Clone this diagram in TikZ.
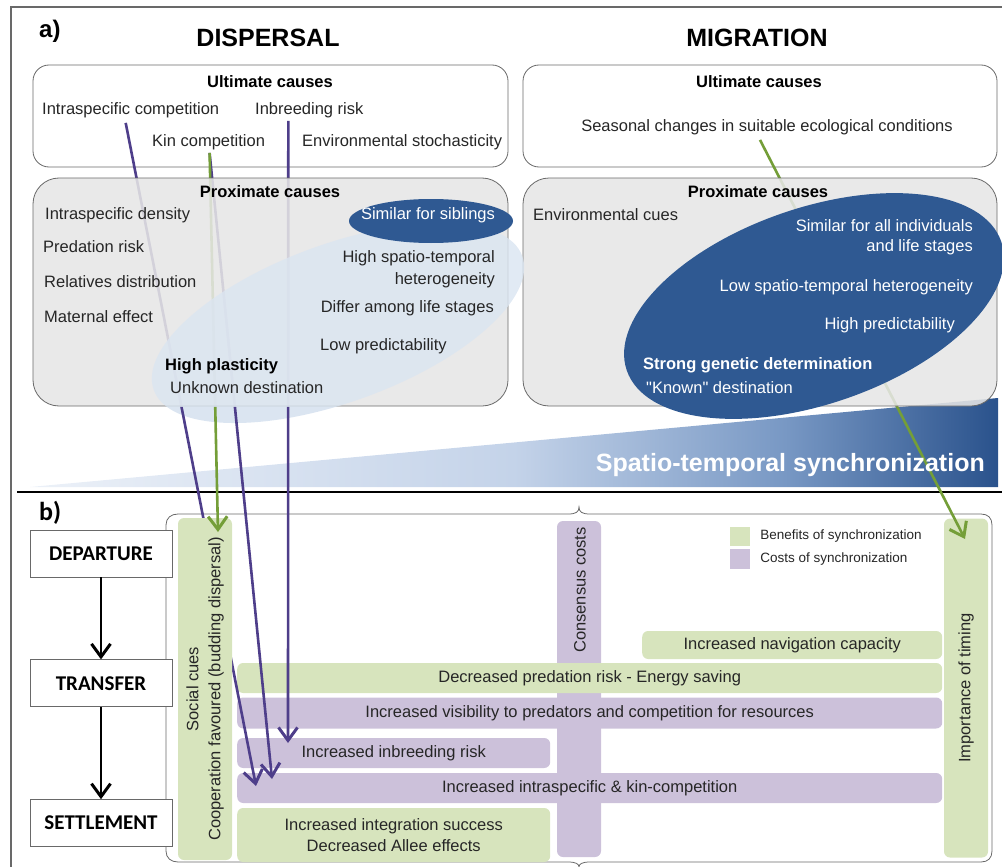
\documentclass[tikz,border=0pt]{standalone}
\usepackage{fontspec}
\setmainfont{Liberation Sans}[Ligatures=TeXOff]
\newfontfamily\stagefont{Carlito}
\usetikzlibrary{arrows.meta,positioning}

\definecolor{proxgray}{RGB}{230,230,230}
\definecolor{framegray}{RGB}{105,105,105}
\definecolor{lightell}{RGB}{219,229,241}
\definecolor{darkell}{RGB}{47,89,146}
\definecolor{bengreen}{RGB}{215,228,189}
\definecolor{costpurple}{RGB}{204,193,218}
\definecolor{purpleline}{RGB}{78,62,138}
\definecolor{greenline}{RGB}{116,158,56}
\definecolor{txtgray}{RGB}{38,38,38}
\definecolor{syncA}{RGB}{236,241,248}
\definecolor{syncB}{RGB}{196,211,233}
\definecolor{syncC}{RGB}{120,152,196}
\definecolor{syncD}{RGB}{42,82,140}

% tikz maps the path box onto 25bp..75bp
\pgfdeclarehorizontalshading{syncshade}{100bp}{color(0bp)=(syncA); color(25bp)=(syncA); color(50bp)=(syncB); color(64bp)=(syncC); color(75bp)=(syncD); color(100bp)=(syncD)}

\newcommand{\causefont}{\fontsize{16.5}{21}\selectfont}
\newcommand{\legendfont}{\fontsize{13.5}{16}\selectfont}
\newcommand{\bigfont}{\fontsize{25}{30}\selectfont\bfseries}
\newcommand{\stagelabelfont}{\stagefont\fontsize{21}{25}\selectfont\bfseries}

\tikzset{
  cause/.style={font=\causefont, text=txtgray},
  causehead/.style={font=\causefont\bfseries, text=black},
  wcause/.style={font=\causefont, text=white},
  ultibox/.style={draw=framegray, line width=0.8pt, fill=white, rounded corners=16pt},
  proxbox/.style={draw=framegray, line width=0.8pt, fill=proxgray, fill opacity=0.88, rounded corners=26pt},
  benbar/.style={fill=bengreen, rounded corners=6pt, font=\causefont, text=txtgray},
  costbar/.style={fill=costpurple, rounded corners=6pt, font=\causefont, text=txtgray},
  stagebox/.style={draw=framegray, fill=white, line width=0.8pt, minimum width=142pt, minimum height=47pt, font=\stagelabelfont, text=black},
  costline/.style={draw=purpleline, line width=2.6pt, arrows={-Straight Barb[length=13pt,width=19pt,line width=3pt]}},
  benline/.style={draw=greenline, line width=2.6pt, arrows={-Straight Barb[length=13pt,width=19pt,line width=3pt]}},
  stagearrow/.style={draw=black, line width=2.4pt, arrows={-Straight Barb[length=13pt,width=19pt,line width=3pt]}},
  bighead/.style={font=\bigfont, text=black}
}

\begin{document}
\begin{tikzpicture}[x=1pt, y=-1pt, every node/.style={inner sep=0pt, font=\causefont, text=txtgray}]
\useasboundingbox (0,0) rectangle (1002,867);
\draw[framegray, line width=1.2pt] (1002,7) -- (11,7) -- (11,867);

% wedge and separator
\shade[shading=syncshade] (30,487) -- (998,398) -- (998,487) -- cycle;
\draw[line width=2.6pt] (17,492) -- (1002,492);

% b) frame with braces
\draw[framegray, line width=0.8pt]
  (178,514) -- (568,514) .. controls (576,514) and (579,512) .. (579,507)
  .. controls (579,512) and (582,514) .. (590,514) -- (981,514)
  .. controls (988,514) and (992,518) .. (992,525) -- (992,851)
  .. controls (992,858) and (988,862) .. (981,862) -- (590,862)
  .. controls (582,862) and (579,864) .. (579,867)
  .. controls (579,864) and (576,862) .. (568,862) -- (178,862)
  .. controls (171,862) and (166,858) .. (166,851) -- (166,525)
  .. controls (166,518) and (171,514) .. (178,514) -- cycle;

% vertical bars
\node[costbar, minimum width=44pt, minimum height=336pt] (cons) at (579,689) {};
\node[cause, rotate=90] (conslabel) at (580,590) {Consensus costs};
\node[benbar, rotate=90, minimum width=339pt, minimum height=44pt] (timing) at (966,688) {Importance of timing};

% horizontal bars
\node[benbar, anchor=west, minimum width=300pt, minimum height=28pt] (bnav) at (642,645) {Increased navigation capacity};
\node[benbar, anchor=west, minimum width=705pt, minimum height=30pt] (bpred) at (237,678) {Decreased predation risk - Energy saving};
\node[costbar, anchor=west, minimum width=705pt, minimum height=31pt] (bvis) at (237,713) {Increased visibility to predators and competition for resources};
\node[costbar, anchor=west, minimum width=313pt, minimum height=30pt] (binbr) at (237,753) {Increased inbreeding risk};
\node[costbar, anchor=west, minimum width=705pt, minimum height=30pt] (bkin) at (237,788) {Increased intraspecific \& kin-competition};
\node[benbar, anchor=west, minimum width=313pt, minimum height=54pt, align=center] (binteg) at (237,835) {Increased integration success\\Decreased Allee effects};

% legend
\node[fill=bengreen, minimum width=20pt, minimum height=19pt] (legben) at (740,536) {};
\node[font=\legendfont, right=10pt of legben] (legbentxt) {Benefits of synchronization};
\node[fill=costpurple, minimum width=20pt, minimum height=20pt] (legcost) at (740,559) {};
\node[font=\legendfont, right=10pt of legcost] (legcosttxt) {Costs of synchronization};

% ultimate causes
\draw[ultibox] (33,65) rectangle (508,167);
\draw[ultibox] (523,65) rectangle (997,167);
\node[causehead] (dult) at (270,82) {Ultimate causes};
\node[cause, anchor=west] (dintra) at (42,110) {Intraspecific competition};
\node[cause, anchor=west] (dinbr) at (255,110) {Inbreeding risk};
\node[cause, anchor=west] (dkin) at (152,142) {Kin competition};
\node[cause, anchor=west] (denv) at (302,142) {Environmental stochasticity};
\node[causehead] (mult) at (759,82) {Ultimate causes};
\node[cause] (mseason) at (767,127) {Seasonal changes in suitable ecological conditions};

% light ellipse below the box
\begin{scope}
  \clip (0,406) rectangle (1002,490);
  \fill[lightell, rotate around={20:(338,323)}] (338,323) ellipse [x radius=196, y radius=79];
\end{scope}

% links to part b
\coordinate (intraend) at (256,786);
\coordinate (kinend) at (272,779);
\coordinate (inbrend) at (288,743);
\coordinate (socialend) at (218,532);
\coordinate (timingend) at (965,539);
\draw[costline] ([shift={(-5,5)}]dintra.south) -- (intraend);
\draw[costline] ([shift={(1,3)}]dkin.south) -- (kinend);
\draw[costline] ([shift={(-21,3)}]dinbr.south) -- (inbrend);

\node[benbar, rotate=90, minimum width=342pt, minimum height=54pt, align=center, font=\fontsize{16.5}{22}\selectfont] (social) at (205,689) {Social cues\\Cooperation favoured (budding dispersal)};

\draw[benline] ([shift={(1,3)}]dkin.south) -- (socialend);
\draw[benline] ([shift={(-7,5)}]mseason.south) -- (timingend);

% proximate causes
\draw[proxbox] (33,178) rectangle (508,406);
\draw[proxbox] (523,178) rectangle (997,406);
\begin{scope}
  \clip (0,0) rectangle (1002,406);
  \fill[lightell, fill opacity=0.82, rotate around={20:(338,323)}] (338,323) ellipse [x radius=196, y radius=79];
\end{scope}
\fill[darkell] (431,221) ellipse [x radius=82, y radius=22];
\fill[darkell, rotate around={19:(814,306)}] (814,306) ellipse [x radius=198, y radius=98];

\node[causehead] (dprox) at (270,192) {Proximate causes};
\node[cause, anchor=west] (ddens) at (45,215) {Intraspecific density};
\node[cause, anchor=west] (dpred) at (43,247) {Predation risk};
\node[cause, anchor=west] (drel) at (44,282) {Relatives distribution};
\node[cause, anchor=west] (dmat) at (44,317) {Maternal effect};
\node[wcause] (dsib) at (428,215) {Similar for siblings};
\node[cause, anchor=east, align=right, font=\fontsize{16.5}{22}\selectfont] (dhet) at (495,269) {High spatio-temporal\\heterogeneity};
\node[cause, anchor=east] (dlife) at (494,308) {Differ among life stages};
\node[cause, anchor=west] (dlow) at (320,346) {Low predictability};
\node[causehead, anchor=west] (dplast) at (165,366) {High plasticity};
\node[cause, anchor=west] (dunk) at (170,388) {Unknown destination};

\node[causehead] (mprox) at (758,192) {Proximate causes};
\node[cause, anchor=west] (menv) at (533,215) {Environmental cues};
\node[wcause, anchor=east, align=right, font=\fontsize{16.5}{20}\selectfont] (msim) at (973,237) {Similar for all individuals\\and life stages};
\node[wcause, anchor=east] (mlow) at (973,287) {Low spatio-temporal heterogeneity};
\node[wcause, anchor=east] (mpred) at (955,325) {High predictability};
\node[wcause, anchor=west, font=\causefont\bfseries] (mgen) at (643,365) {Strong genetic determination};
\node[wcause, anchor=west] (mknown) at (646,388) {"Known" destination};

% titles
\node[bighead, anchor=east, text=white] (synclabel) at (985,465) {Spatio-temporal synchronization};
\node[bighead] (disphead) at (268,38) {DISPERSAL};
\node[bighead] (mighead) at (757,38) {MIGRATION};
\node[font=\fontsize{24}{28}\selectfont\bfseries, text=black, anchor=west] (parta) at (39,31) {a)};
\node[font=\stagefont\fontsize{26}{30}\selectfont\bfseries, text=black, anchor=west] (partb) at (39,513) {b)};

% stages
\node[stagebox] (depart) at (101,553.5) {DEPARTURE};
\node[stagebox, below=82pt of depart] (transfer) {TRANSFER};
\node[stagebox, below=92pt of transfer] (settle) {SETTLEMENT};
\draw[stagearrow] (depart) -- (transfer);
\draw[stagearrow] (transfer) -- (settle);
\end{tikzpicture}
\end{document}
